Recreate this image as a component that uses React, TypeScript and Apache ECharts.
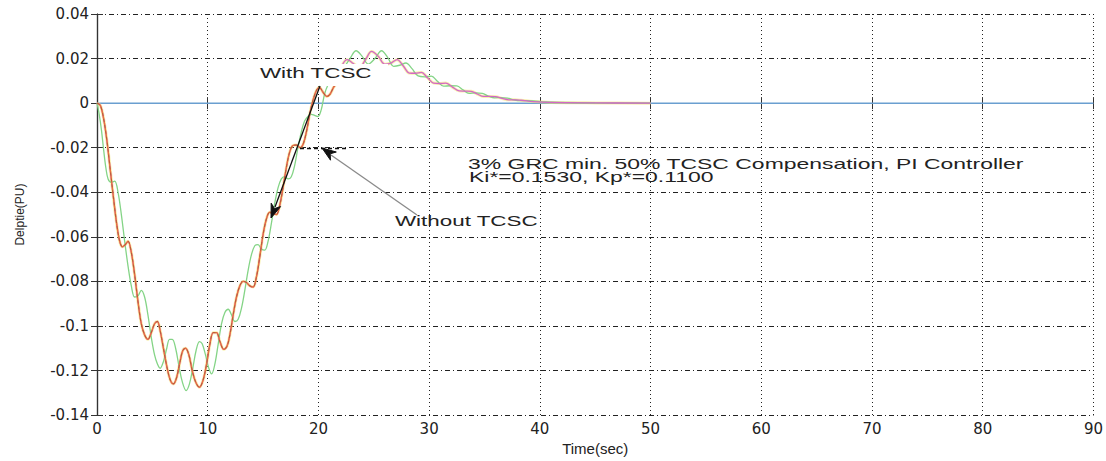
import React, { useEffect, useRef } from "react";
import * as echarts from "echarts";

// ---------- data ----------
const xTicks = [0, 10, 20, 30, 40, 50, 60, 70, 80, 90];
const yTicks = [-0.14, -0.12, -0.1, -0.08, -0.06, -0.04, -0.02, 0, 0.02, 0.04];

// red curve (with TCSC), 0 .. 21.5 s
const redCurve: [number, number][] = [
  [0, 0], [0.3, -0.001], [0.6, -0.007], [0.9, -0.017], [1.2, -0.03], [1.5, -0.043],
  [1.8, -0.055], [2.05, -0.062], [2.3, -0.0645], [2.55, -0.0635], [2.8, -0.062],
  [3.1, -0.067], [3.4, -0.077], [3.7, -0.089], [4.0, -0.099], [4.3, -0.104],
  [4.6, -0.106], [4.9, -0.103], [5.2, -0.099], [5.45, -0.098], [5.7, -0.102],
  [6.0, -0.11], [6.3, -0.118], [6.6, -0.124], [6.9, -0.126], [7.2, -0.123],
  [7.5, -0.116], [7.75, -0.111], [8.0, -0.11], [8.3, -0.113], [8.6, -0.12],
  [8.9, -0.125], [9.25, -0.1275], [9.6, -0.124], [9.9, -0.117], [10.2, -0.108],
  [10.5, -0.103], [10.8, -0.103], [11.1, -0.107], [11.45, -0.1105], [11.75, -0.109],
  [12.0, -0.104], [12.3, -0.095], [12.6, -0.087], [12.9, -0.082], [13.2, -0.08],
  [13.5, -0.0805], [13.8, -0.082], [14.1, -0.0825], [14.4, -0.078], [14.7, -0.069],
  [15.0, -0.059], [15.3, -0.052], [15.6, -0.049], [15.9, -0.0495], [16.2, -0.05],
  [16.5, -0.046], [16.8, -0.038], [17.1, -0.029], [17.4, -0.022], [17.7, -0.019],
  [18.0, -0.0188], [18.35, -0.02], [18.65, -0.018], [18.95, -0.012], [19.25, -0.004],
  [19.55, 0.002], [19.85, 0.006], [20.1, 0.007], [20.4, 0.005], [20.75, 0.003],
  [21.05, 0.004], [21.35, 0.007], [21.5, 0.008],
];

// magenta continuation, 21.8 .. 50 s
const magentaLate: [number, number][] = [
  [21.8, 0.012], [22.2, 0.0175], [22.6, 0.0195], [23.15, 0.0178], [23.7, 0.016],
  [24.25, 0.0195], [24.8, 0.0232], [25.4, 0.021], [26.0, 0.0175], [26.55, 0.018],
  [27.1, 0.0195], [27.65, 0.0168], [28.2, 0.0135], [28.75, 0.0134], [29.3, 0.0138],
  [29.85, 0.0114], [30.4, 0.009], [30.95, 0.0088], [31.5, 0.009], [32.1, 0.0072],
  [32.7, 0.0055], [33.25, 0.0054], [33.8, 0.0053], [34.35, 0.0041], [34.9, 0.003],
  [35.45, 0.003], [36.0, 0.0029], [36.6, 0.0021], [37.2, 0.0015], [37.75, 0.0015],
  [38.3, 0.0013], [39.4, 0.0007], [41, 0.0003], [45, 0.0001], [50, 0],
];

// green curve (without TCSC), 0 .. 50 s
const greenCurve: [number, number][] = [
  [0, 0], [0.2, -0.005], [0.4, -0.012], [0.6, -0.021], [0.8, -0.029], [1.0, -0.034],
  [1.3, -0.0355], [1.6, -0.035], [1.9, -0.04], [2.2, -0.05], [2.5, -0.062],
  [2.8, -0.073], [3.1, -0.082], [3.4, -0.087], [3.7, -0.0865], [4.0, -0.084],
  [4.3, -0.087], [4.6, -0.095], [4.9, -0.105], [5.2, -0.113], [5.45, -0.117],
  [5.7, -0.119], [6.0, -0.116], [6.3, -0.11], [6.55, -0.106], [6.8, -0.106],
  [7.1, -0.11], [7.4, -0.118], [7.7, -0.125], [8.05, -0.129], [8.35, -0.126],
  [8.65, -0.119], [8.95, -0.111], [9.25, -0.107], [9.5, -0.108], [9.8, -0.113],
  [10.1, -0.119], [10.35, -0.1215], [10.65, -0.117], [10.95, -0.108], [11.25, -0.099],
  [11.55, -0.094], [11.85, -0.0925], [12.15, -0.095], [12.45, -0.098], [12.75, -0.097],
  [13.05, -0.092], [13.35, -0.084], [13.65, -0.075], [13.95, -0.068], [14.25, -0.064],
  [14.55, -0.0635], [14.85, -0.0655], [15.15, -0.066], [15.45, -0.062], [15.75, -0.054],
  [16.05, -0.045], [16.35, -0.038], [16.65, -0.034], [16.95, -0.033], [17.25, -0.034],
  [17.55, -0.033], [17.85, -0.028], [18.15, -0.02], [18.45, -0.013], [18.75, -0.008],
  [19.05, -0.006], [19.35, -0.005], [19.65, -0.0055], [19.95, -0.006], [20.25, -0.003],
  [20.55, 0.004], [20.85, 0.008], [21.15, 0.01], [21.7, 0.013], [22.3, 0.016],
  [22.85, 0.02], [23.4, 0.0235], [23.95, 0.021], [24.5, 0.0175], [25.1, 0.02],
  [25.7, 0.0235], [26.25, 0.0205], [26.8, 0.0165], [27.35, 0.017], [27.9, 0.018],
  [28.45, 0.0155], [29.0, 0.0122], [29.6, 0.0118], [30.2, 0.0121], [30.75, 0.0098],
  [31.3, 0.0076], [31.9, 0.0078], [32.5, 0.0077], [33.05, 0.006], [33.6, 0.0044],
  [34.2, 0.0046], [34.8, 0.0044], [35.35, 0.0032], [35.9, 0.0024], [36.5, 0.0025],
  [37.1, 0.0022], [37.65, 0.0015], [38.2, 0.0011], [38.8, 0.0011], [39.4, 0.001],
  [40.5, 0.0005], [42, 0.0003], [45, 0.0001], [50, 0],
];

// zero reference line
const baseline: [number, number][] = [[0, 0], [90, 0]];

const xName = "Time(sec)";
const yName = "Delptie(PU)";
const withLabel = "With TCSC";
const withoutLabel = "Without TCSC";
const noteLine1 = "3% GRC min. 50% TCSC Compensation, PI Controller";
const noteLine2 = "Ki*=0.1530, Kp*=0.1100";

const TXT = '"Liberation Sans", Arial, sans-serif';

export default function App() {
  const ref = useRef<HTMLDivElement>(null);

  useEffect(() => {
    if (!ref.current) return;
    const chart = echarts.init(ref.current, null, { renderer: "svg" });

    const axisLine = { show: true, lineStyle: { color: "#333", width: 1.2 } };
    const tick = { show: true, inside: true, length: 6, lineStyle: { color: "#333", width: 1 } };
    const magentaFull = [...redCurve, ...magentaLate];

    const line = (name: string, data: any, color: string, width: number, z: number, extra: any = {}) => ({
      name,
      type: "line",
      data,
      showSymbol: false,
      symbol: "none",
      smooth: 0.35,
      z,
      lineStyle: { color, width, ...extra },
      emphasis: { disabled: true },
    });

    chart.setOption({
      animation: false,
      backgroundColor: "#ffffff",
      grid: { left: 97, right: 9, top: 14, bottom: 42, containLabel: false },
      xAxis: [
        {
          type: "value",
          min: xTicks[0],
          max: xTicks[xTicks.length - 1],
          interval: 10,
          name: xName,
          nameLocation: "middle",
          nameGap: 22,
          nameTextStyle: { fontFamily: TXT, fontSize: 15, color: "#222" },
          axisLine,
          axisTick: tick,
          axisLabel: { fontFamily: "DejaVu Sans", fontSize: 15, color: "#222", margin: 6 },
          splitLine: { show: true, lineStyle: { color: "#222", type: [1, 3], width: 1 } },
        },
        {
          type: "value",
          position: "top",
          min: xTicks[0],
          max: xTicks[xTicks.length - 1],
          interval: 10,
          axisLine,
          axisTick: tick,
          axisLabel: { show: false },
          splitLine: { show: false },
        },
      ],
      yAxis: [
        {
          type: "value",
          min: yTicks[0],
          max: yTicks[yTicks.length - 1],
          interval: 0.02,
          name: yName,
          nameLocation: "middle",
          nameGap: 71,
          nameRotate: 90,
          nameTextStyle: { fontFamily: TXT, fontSize: 12, color: "#222" },
          axisLine,
          axisTick: tick,
          axisLabel: {
            fontFamily: "DejaVu Sans",
            fontSize: 15,
            color: "#222",
            margin: 8,
            formatter: (v: number) => String(+v.toFixed(2)),
          },
          splitLine: { show: true, lineStyle: { color: "#222", type: [5, 3, 1, 3], width: 1 } },
        },
        {
          type: "value",
          position: "right",
          min: yTicks[0],
          max: yTicks[yTicks.length - 1],
          interval: 0.02,
          axisLine,
          axisTick: tick,
          axisLabel: { show: false },
          splitLine: { show: false },
        },
      ],
      series: [
        line("Reference", baseline, "#6a9fd0", 1.5, 1),
        line("Yellow", magentaFull, "#f3e46c", 3, 2, { opacity: 0.55 }),
        line("Without TCSC", greenCurve, "#84d486", 1.3, 3),
        line("Magenta", magentaFull, "#d467c6", 1.3, 4),
        line("With TCSC", redCurve, "#e8703f", 1.4, 5),
        line("With TCSC dashed", redCurve, "#3a2a20", 0.7, 6, { type: [3, 3], opacity: 0.4 }),
      ],
      graphic: [
        // white box of the "With TCSC" label (hides curve behind it)
        { type: "rect", shape: { x: 256, y: 64, width: 132, height: 22 }, style: { fill: "#ffffff" }, z: 100 },
        {
          type: "text", x: 260, y: 73, scaleX: 1.6, z: 101,
          style: { text: withLabel, font: `14px ${TXT}`, fill: "#222", align: "left", verticalAlign: "middle" },
        },
        // black arrow to the red curve
        { type: "line", shape: { x1: 320, y1: 86, x2: 275, y2: 207 }, style: { stroke: "#111", lineWidth: 1.3 }, z: 102 },
        {
          type: "polygon", z: 102,
          shape: { points: [[271, 218], [280.6, 206.6], [274.5, 208.6], [271.2, 203.2]] },
          style: { fill: "#111", stroke: "#111", lineWidth: 1 },
        },
        // gray arrow from "Without TCSC"
        { type: "line", shape: { x1: 417, y1: 215, x2: 331, y2: 155 }, style: { stroke: "#8a8a8a", lineWidth: 1.3 }, z: 102 },
        {
          type: "polygon", z: 103,
          shape: { points: [[322, 148], [336.3, 152.0], [330.2, 153.8], [330.5, 160.2]] },
          style: { fill: "#111", stroke: "#111", lineWidth: 1 },
        },
        { type: "line", shape: { x1: 300, y1: 148.5, x2: 346, y2: 148.5 }, style: { stroke: "#111", lineWidth: 1.6, lineDash: [4, 3] }, z: 102 },
        {
          type: "text", x: 395, y: 221, scaleX: 1.6, z: 101,
          style: { text: withoutLabel, font: `14px ${TXT}`, fill: "#222", align: "left", verticalAlign: "middle" },
        },
        {
          type: "text", x: 468, y: 164, scaleX: 1.64, z: 101,
          style: { text: noteLine1, font: `14px ${TXT}`, fill: "#222", align: "left", verticalAlign: "middle" },
        },
        {
          type: "text", x: 469, y: 177, scaleX: 1.64, z: 101,
          style: { text: noteLine2, font: `14px ${TXT}`, fill: "#222", align: "left", verticalAlign: "middle" },
        },
      ],
    });

    return () => chart.dispose();
  }, []);

  return (
    <div
      ref={ref}
      style={{ position: "absolute", left: 0, top: 0, width: 1106, height: 461, background: "#fff" }}
    />
  );
}
